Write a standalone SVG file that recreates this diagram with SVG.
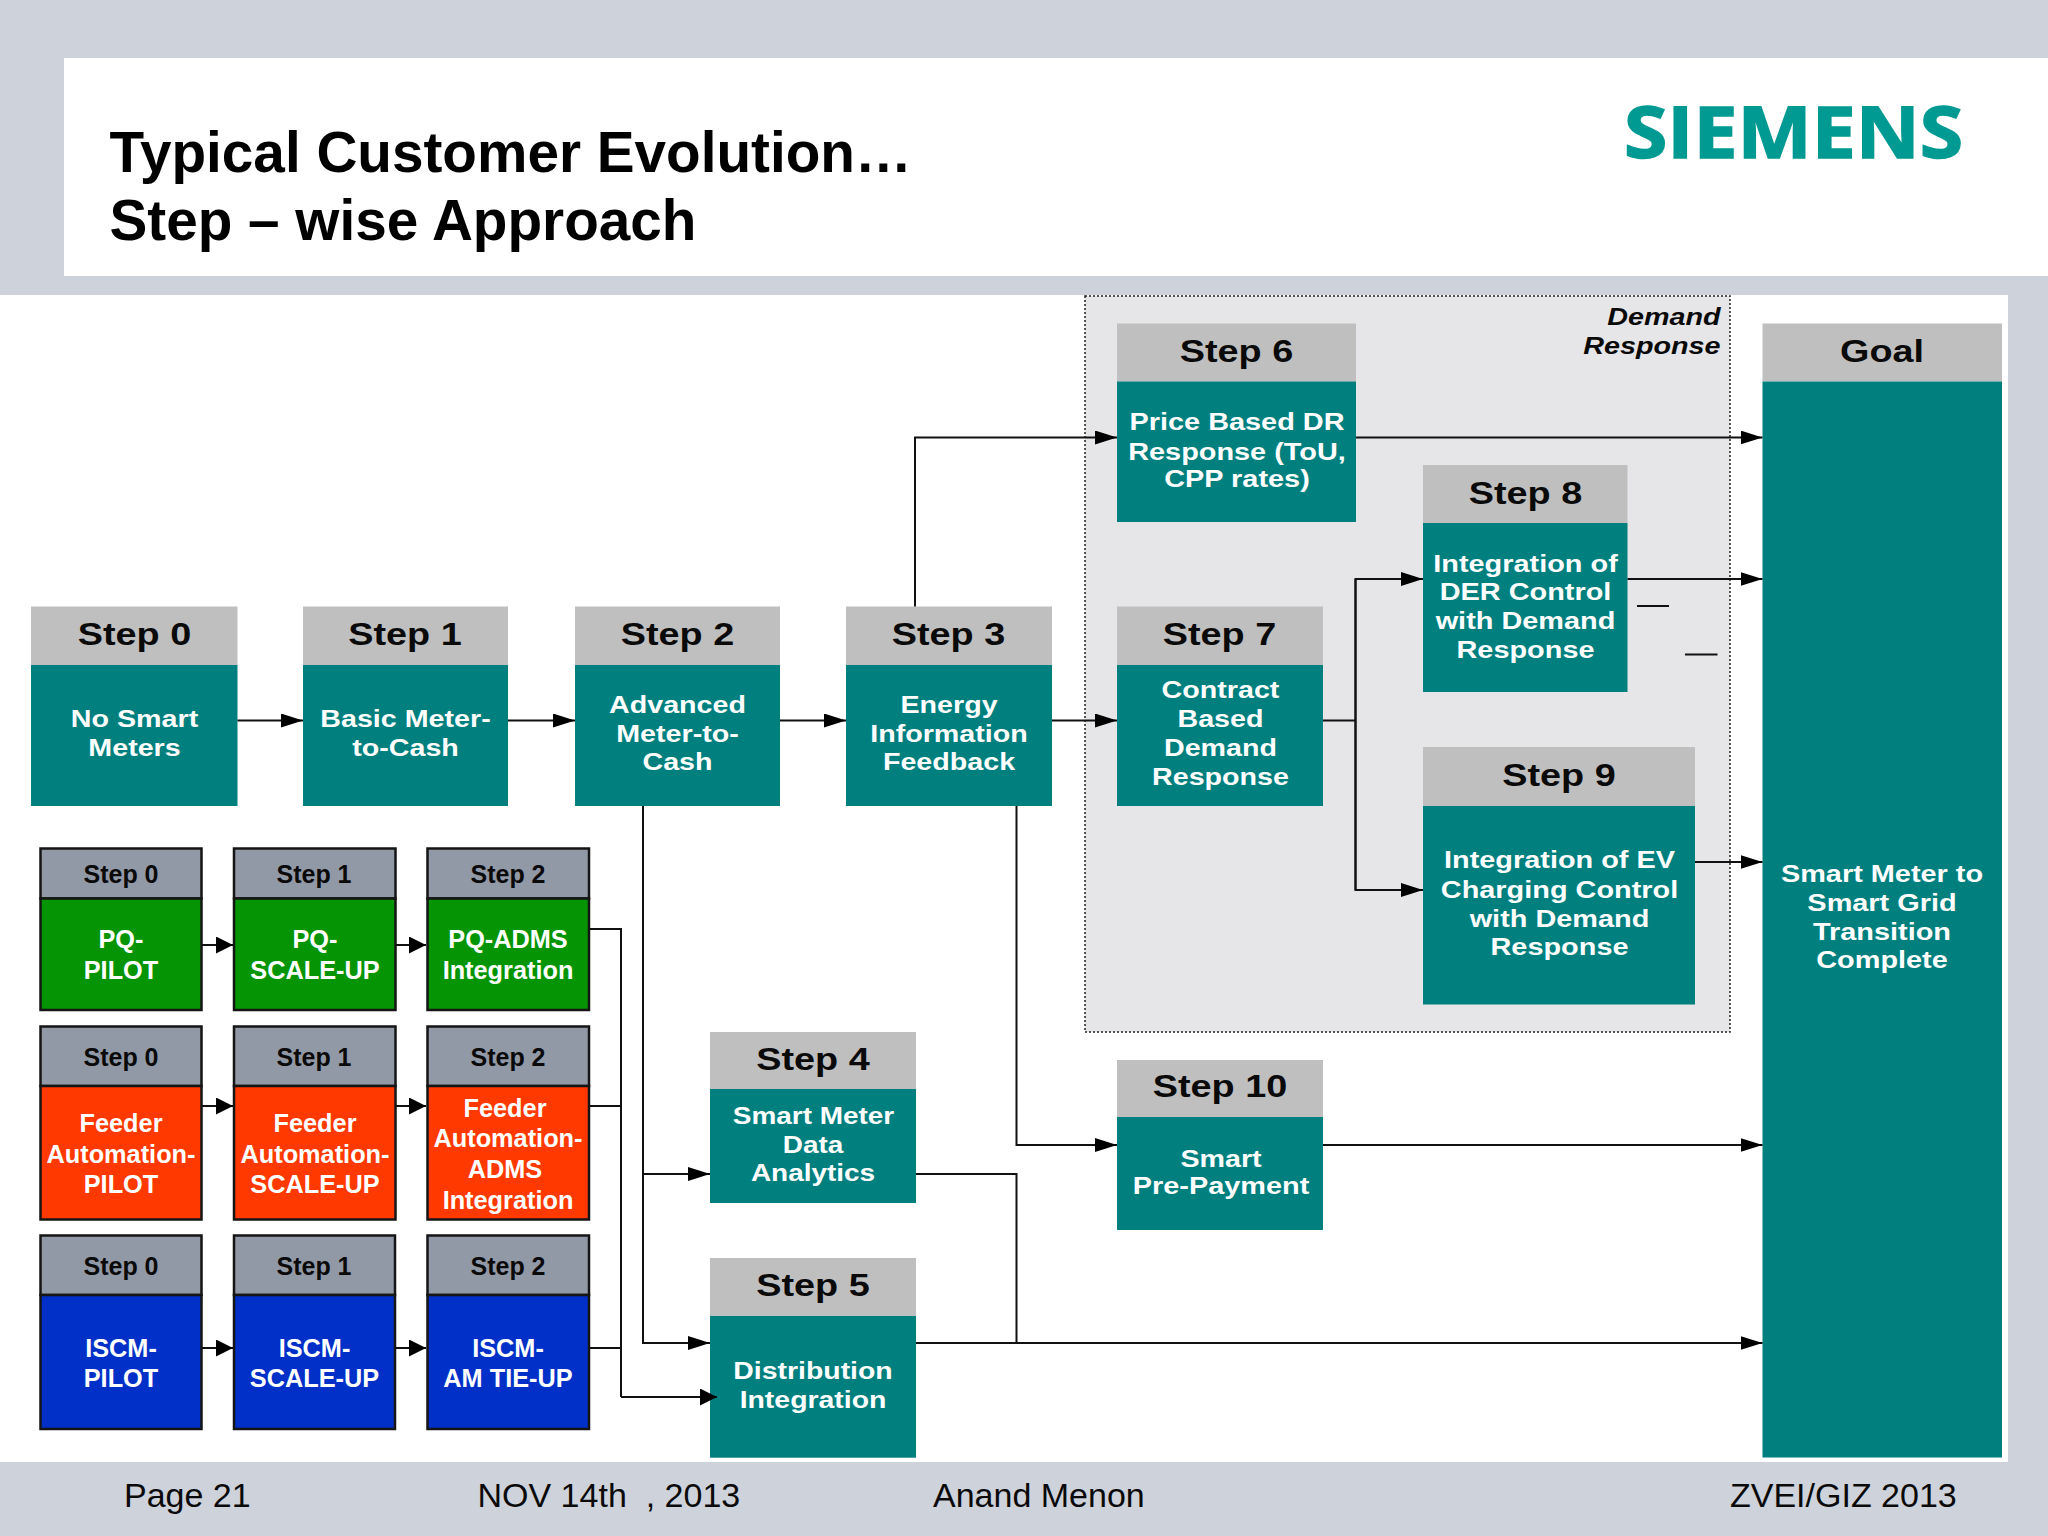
<svg xmlns="http://www.w3.org/2000/svg" width="2048" height="1536" viewBox="0 0 2048 1536">
<style>
text{font-family:"Liberation Sans",Arial,sans-serif}
.bg{fill:#CED2DA}.w{fill:#fff}
.hd{fill:#C0BFBF}.tl{fill:#007F7F}
.h{font-size:31.500px;font-weight:700;fill:#0a0a0a;text-anchor:middle}
.b{font-size:23.300px;font-weight:700;fill:#fff;text-anchor:middle}
.sh{fill:#9299A6;stroke:#151515;stroke-width:2.500}
.g{fill:#049404;stroke:#151515;stroke-width:2.500}
.o{fill:#FF3900;stroke:#151515;stroke-width:2.500}
.u{fill:#0030C8;stroke:#151515;stroke-width:2.500}
.sht{font-size:25px;font-weight:700;fill:#0a0a0a;text-anchor:middle}
.sb{font-size:25.300px;font-weight:700;fill:#fff;text-anchor:middle}
.f{font-size:34px;fill:#0a0a0a;white-space:pre}
.c{fill:none;stroke:#111;stroke-width:2}
.a{marker-end:url(#ah)}.s{marker-end:url(#sa)}
</style>
<defs>
<marker id="ah" markerUnits="userSpaceOnUse" markerWidth="22" markerHeight="14" refX="22" refY="7" orient="auto"><path d="M0 0L22 7L0 14Z" fill="#000"/></marker>
<marker id="sa" markerUnits="userSpaceOnUse" markerWidth="17" markerHeight="17" refX="17" refY="8.500" orient="auto"><path d="M0 0L17 8.500L0 17Z" fill="#000"/></marker>
</defs>
<rect class="bg" width="2048" height="1536"/>
<rect class="w" x="64" y="58" width="1984" height="218"/>
<rect class="w" x="0" y="295" width="2008" height="1167"/>
<g id="title"><text x="109.500" y="172" font-size="56.700" font-weight="700" fill="#000">Typical Customer Evolution…</text><text x="109.500" y="240" font-size="56.700" font-weight="700" fill="#000">Step – wise Approach</text></g>
<text id="logo" x="1624" y="157.500" font-size="71" font-weight="700" fill="#009A93" stroke="#009A93" stroke-width="1.500" textLength="339" lengthAdjust="spacingAndGlyphs" style="font-family:'Open Sans','Noto Sans',sans-serif">SIEMENS</text>
<g id="demand-response">
<rect x="1085" y="296" width="645" height="736" fill="#E6E6E8" stroke="#222" stroke-width="1.500" stroke-dasharray="2 2"/>
<g font-size="23" font-weight="700" font-style="italic" fill="#0a0a0a" text-anchor="end"><text transform="translate(1720.500 325) scale(1.25 1)">Demand</text><text transform="translate(1720.500 354) scale(1.25 1)">Response</text></g>
</g>
<g id="step0"><rect class="hd" x="31" y="606.500" width="206.500" height="58.500"/><rect class="tl" x="31" y="665" width="206.500" height="141"/><text class="h" transform="translate(134.500 644.700) scale(1.2 1)">Step 0</text><text class="b" transform="translate(134.500 726.700) scale(1.23 1)">No Smart</text><text class="b" transform="translate(134.500 755.700) scale(1.23 1)">Meters</text></g>
<g id="step1"><rect class="hd" x="303" y="606.500" width="205" height="58.500"/><rect class="tl" x="303" y="665" width="205" height="141"/><text class="h" transform="translate(405 644.700) scale(1.2 1)">Step 1</text><text class="b" transform="translate(405.500 726.700) scale(1.23 1)">Basic Meter-</text><text class="b" transform="translate(405.500 755.700) scale(1.23 1)">to-Cash</text></g>
<g id="step2"><rect class="hd" x="575" y="606.500" width="205" height="58.500"/><rect class="tl" x="575" y="665" width="205" height="141"/><text class="h" transform="translate(677.500 644.700) scale(1.2 1)">Step 2</text><text class="b" transform="translate(677.500 712.700) scale(1.23 1)">Advanced</text><text class="b" transform="translate(677.500 742.300) scale(1.23 1)">Meter-to-</text><text class="b" transform="translate(677.500 770) scale(1.23 1)">Cash</text></g>
<g id="step3"><rect class="hd" x="846" y="606.500" width="206" height="58.500"/><rect class="tl" x="846" y="665" width="206" height="141"/><text class="h" transform="translate(948.500 644.700) scale(1.2 1)">Step 3</text><text class="b" transform="translate(949 712.700) scale(1.23 1)">Energy</text><text class="b" transform="translate(949 742.300) scale(1.23 1)">Information</text><text class="b" transform="translate(949 770) scale(1.23 1)">Feedback</text></g>
<g id="step4"><rect class="hd" x="710" y="1032" width="206" height="57"/><rect class="tl" x="710" y="1089" width="206" height="114"/><text class="h" transform="translate(813 1069.500) scale(1.2 1)">Step 4</text><text class="b" transform="translate(813.500 1123.700) scale(1.2 1)">Smart Meter</text><text class="b" transform="translate(813 1152.700) scale(1.2 1)">Data</text><text class="b" transform="translate(813 1180.500) scale(1.2 1)">Analytics</text></g>
<g id="step5"><rect class="hd" x="710" y="1258" width="206" height="58"/><rect class="tl" x="710" y="1316" width="206" height="141.700"/><text class="h" transform="translate(813 1296.300) scale(1.2 1)">Step 5</text><text class="b" transform="translate(813 1379) scale(1.22 1)">Distribution</text><text class="b" transform="translate(813 1408) scale(1.22 1)">Integration</text></g>
<g id="step6"><rect class="hd" x="1117" y="323.500" width="239" height="58"/><rect class="tl" x="1117" y="381.500" width="239" height="140.500"/><text class="h" transform="translate(1236.500 362.200) scale(1.2 1)">Step 6</text><text class="b" transform="translate(1237 430.300) scale(1.24 1)">Price Based DR</text><text class="b" transform="translate(1237 459.500) scale(1.24 1)">Response (ToU,</text><text class="b" transform="translate(1237 487) scale(1.24 1)">CPP rates)</text></g>
<g id="step7"><rect class="hd" x="1117" y="606.500" width="206" height="58.500"/><rect class="tl" x="1117" y="665" width="206" height="141"/><text class="h" transform="translate(1219.500 644.700) scale(1.2 1)">Step 7</text><text class="b" transform="translate(1220.500 698) scale(1.23 1)">Contract</text><text class="b" transform="translate(1220.500 726.700) scale(1.23 1)">Based</text><text class="b" transform="translate(1220.500 755.700) scale(1.23 1)">Demand</text><text class="b" transform="translate(1220.500 785) scale(1.23 1)">Response</text></g>
<g id="step8"><rect class="hd" x="1423" y="465" width="204.500" height="58"/><rect class="tl" x="1423" y="523" width="204.500" height="169"/><text class="h" transform="translate(1525.500 504) scale(1.2 1)">Step 8</text><text class="b" transform="translate(1525.500 572) scale(1.24 1)">Integration of</text><text class="b" transform="translate(1525.500 600.300) scale(1.24 1)">DER Control</text><text class="b" transform="translate(1525.500 628.500) scale(1.24 1)">with Demand</text><text class="b" transform="translate(1525.500 657.800) scale(1.24 1)">Response</text></g>
<g id="step9"><rect class="hd" x="1423" y="747" width="272" height="59"/><rect class="tl" x="1423" y="806" width="272" height="198.500"/><text class="h" transform="translate(1559 785.700) scale(1.2 1)">Step 9</text><text class="b" transform="translate(1559.500 868.200) scale(1.24 1)">Integration of EV</text><text class="b" transform="translate(1559.500 897.700) scale(1.24 1)">Charging Control</text><text class="b" transform="translate(1559.500 926.500) scale(1.24 1)">with Demand</text><text class="b" transform="translate(1559.500 954.500) scale(1.24 1)">Response</text></g>
<g id="step10"><rect class="hd" x="1117" y="1060" width="206" height="57"/><rect class="tl" x="1117" y="1117" width="206" height="113"/><text class="h" transform="translate(1220 1097) scale(1.2 1)">Step 10</text><text class="b" transform="translate(1221 1166.700) scale(1.23 1)">Smart</text><text class="b" transform="translate(1221 1194) scale(1.24 1)">Pre-Payment</text></g>
<g id="goal"><rect class="hd" x="1762.500" y="323.500" width="239.500" height="58"/><rect class="tl" x="1762.500" y="381.500" width="239.500" height="1076"/><text class="h" transform="translate(1882 362.200) scale(1.2 1)">Goal</text><text class="b" transform="translate(1882 881.800) scale(1.24 1)">Smart Meter to</text><text class="b" transform="translate(1882 911) scale(1.24 1)">Smart Grid</text><text class="b" transform="translate(1882 940) scale(1.24 1)">Transition</text><text class="b" transform="translate(1882 968) scale(1.24 1)">Complete</text></g>
<g id="pq-0"><rect class="sh" x="40.500" y="848.500" width="161" height="50"/><rect class="g" x="40.500" y="898.500" width="161" height="111.500"/><text class="sht" x="121" y="883.300">Step 0</text><text class="sb" x="121" y="948">PQ-</text><text class="sb" x="121" y="979">PILOT</text></g>
<g id="pq-1"><rect class="sh" x="234" y="848.500" width="161.500" height="50"/><rect class="g" x="234" y="898.500" width="161.500" height="111.500"/><text class="sht" x="314" y="883.300">Step 1</text><text class="sb" x="315" y="948">PQ-</text><text class="sb" x="315" y="979">SCALE-UP</text></g>
<g id="pq-2"><rect class="sh" x="427.500" y="848.500" width="161.500" height="50"/><rect class="g" x="427.500" y="898.500" width="161.500" height="111.500"/><text class="sht" x="508" y="883.300">Step 2</text><text class="sb" x="508" y="948">PQ-ADMS</text><text class="sb" x="508" y="979">Integration</text></g>
<g id="fa-0"><rect class="sh" x="40.500" y="1026.500" width="161" height="59.500"/><rect class="o" x="40.500" y="1086" width="161" height="133.500"/><text class="sht" x="121" y="1065.500">Step 0</text><text class="sb" x="121" y="1131.700">Feeder</text><text class="sb" x="121" y="1162.700">Automation-</text><text class="sb" x="121" y="1192.700">PILOT</text></g>
<g id="fa-1"><rect class="sh" x="234" y="1026.500" width="161.500" height="59.500"/><rect class="o" x="234" y="1086" width="161.500" height="133.500"/><text class="sht" x="314" y="1065.500">Step 1</text><text class="sb" x="315" y="1131.700">Feeder</text><text class="sb" x="315" y="1162.700">Automation-</text><text class="sb" x="315" y="1192.700">SCALE-UP</text></g>
<g id="fa-2"><rect class="sh" x="427.500" y="1026.500" width="161.500" height="59.500"/><rect class="o" x="427.500" y="1086" width="161.500" height="133.500"/><text class="sht" x="508" y="1065.500">Step 2</text><text class="sb" x="505" y="1116.500">Feeder</text><text class="sb" x="508" y="1147">Automation-</text><text class="sb" x="505" y="1177.500">ADMS</text><text class="sb" x="508" y="1208.500">Integration</text></g>
<g id="iscm-0"><rect class="sh" x="40.500" y="1235.500" width="161" height="59.500"/><rect class="u" x="40.500" y="1295" width="161" height="134"/><text class="sht" x="121" y="1275">Step 0</text><text class="sb" x="121" y="1356.700">ISCM-</text><text class="sb" x="121" y="1387.300">PILOT</text></g>
<g id="iscm-1"><rect class="sh" x="234" y="1235.500" width="161" height="59.500"/><rect class="u" x="234" y="1295" width="161" height="134"/><text class="sht" x="314" y="1275">Step 1</text><text class="sb" x="314.500" y="1356.700">ISCM-</text><text class="sb" x="314.500" y="1387.300">SCALE-UP</text></g>
<g id="iscm-2"><rect class="sh" x="427.500" y="1235.500" width="161.500" height="59.500"/><rect class="u" x="427.500" y="1295" width="161.500" height="134"/><text class="sht" x="508" y="1275">Step 2</text><text class="sb" x="508" y="1356.700">ISCM-</text><text class="sb" x="508" y="1387.300">AM TIE-UP</text></g>
<g id="connectors">
<path class="c a" d="M237.500 720.500H303"/>
<path class="c a" d="M508 720.500H575"/>
<path class="c a" d="M780 720.500H846"/>
<path class="c a" d="M1052 720.500H1117"/>
<path class="c a" d="M915 606.500V437.500H1117"/>
<path class="c a" d="M1356 437.500H1762.500"/>
<path class="c" d="M1323 720.500H1355.500"/>
<path class="c a" d="M1355.500 890V579H1423"/>
<path class="c a" d="M1355.500 579V890H1423"/>
<path class="c a" d="M1627.500 579H1762.500"/>
<path class="c a" d="M1695 862H1762.500"/>
<path class="c a" d="M643 806V1174H710"/>
<path class="c a" d="M643 1174V1343H710"/>
<path class="c a" d="M1016.500 806V1145H1117"/>
<path class="c a" d="M1323 1145H1762.500"/>
<path class="c a" d="M916 1343H1762.500"/>
<path class="c" d="M916 1174H1016.500V1343"/>
<path class="c s" d="M202 945H233"/><path class="c s" d="M396 945H426"/>
<path class="c s" d="M202 1106H233"/><path class="c s" d="M396 1106H426"/>
<path class="c s" d="M202 1348H233"/><path class="c s" d="M396 1348H426"/>
<path class="c" d="M590 929H621V1397"/>
<path class="c" d="M590 1106H621"/><path class="c" d="M590 1348H621"/>
<path class="c s" d="M621 1397H717"/>
<path class="c" d="M1637 606H1669"/><path class="c" d="M1685 654.500H1717.500"/>
</g>
<g id="footer"><text class="f" x="124" y="1506.700">Page 21</text><text class="f" x="477.500" y="1506.700" xml:space="preserve">NOV 14th  , 2013</text><text class="f" x="933" y="1506.700">Anand Menon</text><text class="f" x="1730" y="1506.700">ZVEI/GIZ 2013</text></g>
</svg>
